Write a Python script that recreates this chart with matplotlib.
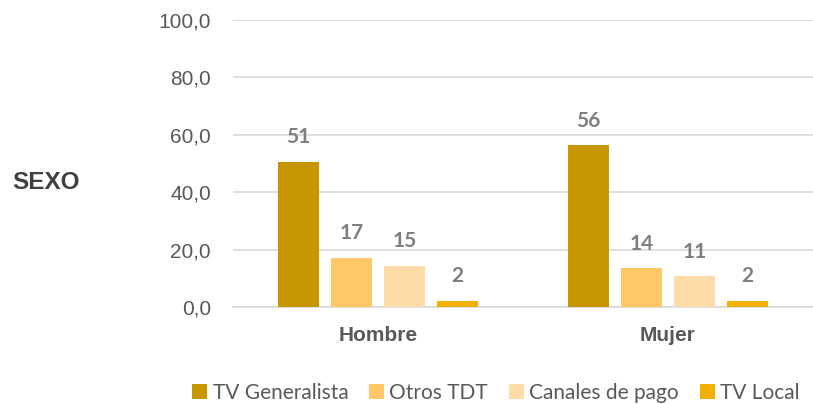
import matplotlib.pyplot as plt
import numpy as np

# Data
categories = ['Hombre', 'Mujer']
series_names = ['TV Generalista', 'Otros TDT', 'Canales de pago', 'TV Local']
tv_generalista = [50.6, 56.4]
otros_tdt = [17.3, 13.6]
canales_pago = [14.6, 10.8]
tv_local = [2.4, 2.4]
y_ticks = [0, 20, 40, 60, 80, 100]

colors = ['#C89600', '#FFC766', '#FFDBA8', '#F0B000']
series = [tv_generalista, otros_tdt, canales_pago, tv_local]

fig = plt.figure(figsize=(8.13, 4.04), dpi=100)
ax = fig.add_axes([0.2866, 0.2389, 0.7134, 0.7116])

x = np.arange(len(categories))
width = 0.143
step = 0.183
offsets = (np.arange(len(series)) - 1.5) * step

for vals, off, col, name in zip(series, offsets, colors, series_names):
    bars = ax.bar(x + off, vals, width, color=col, label=name, zorder=3)
    for b, v in zip(bars, vals):
        ax.annotate(f'{v:.0f}', (b.get_x() + b.get_width() / 2, v),
                    xytext=(0, 10.5), textcoords='offset points',
                    ha='center', va='bottom', fontsize=15, fontweight='bold',
                    color='#7F7F7F', family='Lato')

ax.set_xlim(-0.5, 1.5)
ax.set_ylim(0, 100)
ax.set_yticks(y_ticks)
ax.set_yticklabels([f'{t:.1f}'.replace('.', ',') for t in y_ticks],
                   fontsize=15, color='#595959', family='Liberation Sans')
ax.set_xticks(x)
ax.set_xticklabels(categories, fontsize=15, fontweight='bold', color='#595959',
                   family='Liberation Sans')
ax.tick_params(axis='both', length=0)
ax.tick_params(axis='y', pad=16)
ax.tick_params(axis='x', pad=13)
ax.grid(axis='y', color='#D9D9D9', linewidth=1.2, zorder=0)
for s in ['top', 'right', 'left']:
    ax.spines[s].set_visible(False)
ax.spines['bottom'].set_color('#D9D9D9')
ax.spines['bottom'].set_linewidth(1.2)

fig.text(0.0148, 0.548, 'SEXO', fontsize=17.5, fontweight='bold', color='#404040',
         family='Liberation Sans', va='center', ha='left')

fig.legend(loc='center', bbox_to_anchor=(0.610, 0.027), ncol=4, frameon=False,
           handlelength=0.72, handleheight=0.72, handletextpad=0.25,
           columnspacing=1.0, prop={'family': 'Lato', 'size': 15},
           labelcolor='#595959')

fig.savefig('out.png', dpi=100)
